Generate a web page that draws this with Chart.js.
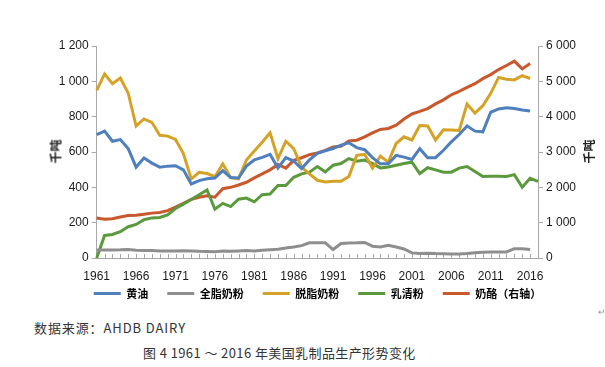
<!DOCTYPE html>
<html lang="zh">
<head>
  <meta charset="UTF-8">
  <title>1961 ~ 2016 年美国乳制品生产形势变化</title>
  <script src="https://cdn.jsdelivr.net/npm/chart.js"></script>
  <style>
    body {
      margin: 0;
      padding: 0;
      background: #fff;
      font-family: "Liberation Sans", "Noto Sans CJK SC", sans-serif;
    }
    .wrap {
      position: relative;
      width: 605px;
      height: 367px;
    }
    .chart-box {
      position: absolute;
      left: 0;
      top: 0;
      width: 605px;
      height: 309px;
    }
    .ytitle {
      position: absolute;
      font: bold 12px "Noto Sans CJK SC", sans-serif;
      color: #222;
      transform: rotate(-90deg);
      white-space: nowrap;
    }
    .note {
      position: absolute;
      font: 13px "Noto Sans CJK SC", sans-serif;
      color: #333;
      white-space: nowrap;
    }
  </style>
</head>
<body>
  <div class="wrap">
    <div class="chart-box"><canvas id="chart"></canvas></div>
    <div class="ytitle" style="left:43px; top:143px;">千吨</div>
    <div class="ytitle" style="left:576px; top:143px;">千吨</div>
    <div class="note" style="left:598px; top:305px; font-size:9px; color:#999;">↵</div>
    <div class="note" style="left:34px; top:318px; letter-spacing:0.9px;">数据来源：AHDB DAIRY</div>
    <div class="note" style="left:143px; top:343px; letter-spacing:0.4px;">图 4 1961 ～ 2016 年美国乳制品生产形势变化</div>
  </div>

  <script>
    // 年份 1961-2017
    const years = [];
    for (let y = 1961; y <= 2017; y++) years.push(String(y));

    // 左轴（千吨）
    const butter = [
      699, 718, 661, 670, 619, 514, 566, 537, 514, 520,
      522, 499, 419, 438, 448, 453, 495, 455, 453, 520,
      555, 570, 587, 509, 568, 549, 506, 555, 592, 607,
      620, 639, 652, 625, 613, 568, 533, 533, 581, 571,
      558, 619, 568, 568, 610, 657, 699, 747, 718, 714,
      825, 844, 851, 846, 838, 832, null
    ];
    const wholeMilkPowder = [
      45, 45, 45, 46, 48, 44, 42, 42, 40, 40,
      40, 41, 40, 38, 37, 35, 40, 38, 40, 42,
      40, 44, 47, 50, 57, 62, 70, 86, 86, 86,
      48, 82, 85, 86, 88, 67, 63, 72, 62, 51,
      29, 25, 27, 25, 24, 22, 22, 25, 30, 32,
      34, 34, 34, 53, 52, 48, null
    ];
    const skimMilkPowder = [
      949, 1042, 987, 1019, 933, 747, 787, 768, 695, 690,
      671, 591, 448, 485, 478, 460, 533, 455, 448, 555,
      605, 655, 709, 562, 661, 619, 514, 476, 440, 430,
      434, 434, 461, 581, 587, 509, 577, 543, 648, 686,
      668, 750, 747, 668, 726, 724, 722, 872, 820, 862,
      932, 1022, 1012, 1008, 1032, 1016, null
    ];
    const wheyPowder = [
      0, 128, 133, 149, 177, 190, 217, 227, 229, 244,
      280, 305, 331, 358, 385, 276, 309, 291, 333, 339,
      318, 358, 362, 410, 410, 457, 476, 486, 518, 488,
      525, 535, 563, 548, 554, 535, 510, 515, 525, 535,
      542, 478, 511, 499, 486, 486, 509, 518, 490, 461,
      463, 463, 461, 472, 400, 451, 434
    ];
    // 右轴（千吨）
    const cheese = [
      1130, 1100, 1110, 1160, 1200, 1210, 1240, 1270, 1290, 1340,
      1440, 1550, 1660, 1720, 1760, 1720, 1960, 2000, 2067, 2143,
      2267, 2381, 2495, 2648, 2543, 2762, 2838, 2924, 2972, 3048,
      3143, 3162, 3314, 3333, 3429, 3543, 3638, 3667, 3762, 3933,
      4076, 4150, 4230, 4362, 4476, 4620, 4714, 4829, 4933, 5076,
      5190, 5333, 5448, 5571, 5352, 5505, null
    ];

    const seriesNames = ['黄油', '全脂奶粉', '脱脂奶粉', '乳清粉', '奶酪（右轴）'];
    const seriesColors = ['#4f7fbc', '#8e8e8e', '#d5a228', '#5a9a3c', '#c9582c'];

    const axisColor = '#a8a8a8';
    const fmt = v => String(v).replace(/\B(?=(\d{3})+(?!\d))/g, ' ');

    function line(label, data, color, axis) {
      return {
        label: label,
        data: data,
        borderColor: color,
        backgroundColor: color,
        borderWidth: 3,
        pointRadius: 0,
        tension: 0,
        fill: false,
        yAxisID: axis
      };
    }

    // x 轴内侧的小刻度
    const innerTicks = {
      id: 'innerTicks',
      beforeDatasetsDraw(chart) {
        const x = chart.scales.x;
        const ctx = chart.ctx;
        const bottom = chart.chartArea.bottom;
        ctx.save();
        ctx.strokeStyle = axisColor;
        ctx.lineWidth = 1;
        ctx.beginPath();
        for (let i = 0; i < years.length; i++) {
          const px = Math.round(x.getPixelForTick(i)) + 0.5;
          ctx.moveTo(px, bottom);
          ctx.lineTo(px, bottom - 4);
        }
        ctx.stroke();
        ctx.restore();
      }
    };

    const tickFont = { family: '"Liberation Sans", Arial, sans-serif', size: 12 };

    new Chart(document.getElementById('chart'), {
      type: 'line',
      data: {
        labels: years,
        datasets: [
          line(seriesNames[0], butter, seriesColors[0], 'y'),
          line(seriesNames[1], wholeMilkPowder, seriesColors[1], 'y'),
          line(seriesNames[2], skimMilkPowder, seriesColors[2], 'y'),
          line(seriesNames[3], wheyPowder, seriesColors[3], 'y'),
          line(seriesNames[4], cheese, seriesColors[4], 'y1')
        ]
      },
      options: {
        responsive: true,
        maintainAspectRatio: false,
        animation: false,
        layout: {
          padding: { left: 30, right: 0, top: 46, bottom: 0 }
        },
        scales: {
          x: {
            offset: false,
            grid: { display: false },
            border: { color: axisColor },
            afterFit: s => { s.height = 22; },
            ticks: {
              autoSkip: false,
              maxRotation: 0,
              padding: 3,
              color: '#1a1a1a',
              font: tickFont,
              callback: (v, i) => (i % 5 === 0 ? years[i] : '')
            }
          },
          y: {
            position: 'left',
            min: 0,
            max: 1200,
            grid: { drawOnChartArea: false, tickLength: 5, color: axisColor },
            border: { color: axisColor },
            afterFit: s => { s.width = 66.7; },
            ticks: {
              stepSize: 200,
              padding: 3,
              color: '#1a1a1a',
              font: tickFont,
              callback: v => fmt(v)
            }
          },
          y1: {
            position: 'right',
            min: 0,
            max: 6000,
            grid: { drawOnChartArea: false, tickLength: 5, color: axisColor },
            border: { color: axisColor },
            afterFit: s => { s.width = 67; },
            ticks: {
              stepSize: 1000,
              padding: 3,
              color: '#1a1a1a',
              font: tickFont,
              callback: v => fmt(v)
            }
          }
        },
        plugins: {
          legend: {
            position: 'bottom',
            labels: {
              boxWidth: 27,
              boxHeight: 3,
              padding: 8,
              color: '#222',
              font: { family: '"Noto Sans CJK SC", sans-serif', size: 11, weight: 'bold' },
              // 图例项之间留出较宽的间隔
              generateLabels: chart => chart.data.datasets.map((ds, i, all) => ({
                text: i < all.length - 1 ? ds.label + '\u2002\u2002' : ds.label,
                fillStyle: ds.borderColor,
                strokeStyle: ds.borderColor,
                lineWidth: 0,
                hidden: false,
                datasetIndex: i
              }))
            }
          },
          tooltip: { enabled: false }
        }
      },
      plugins: [innerTicks]
    });
  </script>
</body>
</html>
